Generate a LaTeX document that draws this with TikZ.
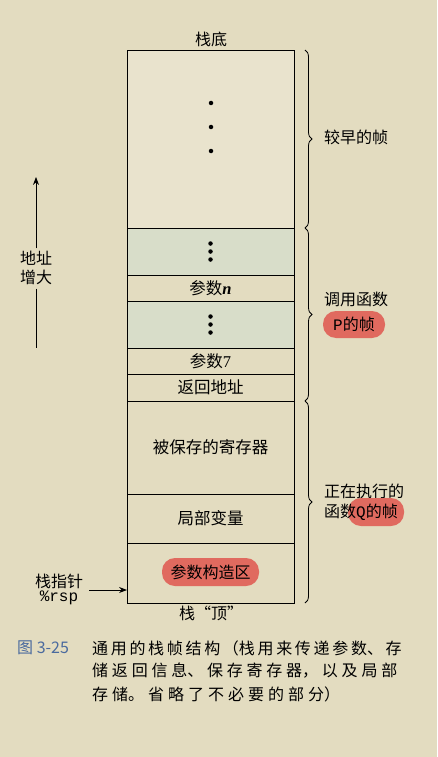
\documentclass[tikz,border=0pt]{standalone}
\usepackage{fontspec}
\setmainfont{Noto Sans CJK SC}
\newfontfamily\latinfont{Liberation Serif}
\setmonofont{Liberation Mono}
\usetikzlibrary{arrows.meta, positioning, decorations.pathreplacing}
\XeTeXlinebreaklocale "zh"
\XeTeXlinebreakskip=2.3pt plus 8pt

\definecolor{paper}{HTML}{E3DCC0}
\definecolor{oldframe}{HTML}{E9E3CD}
\definecolor{calm}{HTML}{D8DDC9}
\definecolor{pillred}{HTML}{E06A5F}
\definecolor{figblue}{HTML}{4A6A9E}

\begin{document}
\begin{tikzpicture}[
    x=1pt, y=-1pt,
    cell/.style={
        draw,
        line width=0.9pt,
        minimum width=167pt,
        inner sep=0pt,
        outer sep=0pt,
        font=\fontsize{16.5pt}{19pt}\selectfont,
    },
    pill/.style={
        fill=pillred,
        rounded corners=13pt,
        inner sep=0pt,
        font=\fontsize{16pt}{19pt}\selectfont,
    },
    brace/.style={
        decorate,
        decoration={brace, amplitude=7pt},
        line width=0.8pt,
    },
    dot/.style={
        circle,
        fill,
        inner sep=0pt,
        minimum size=4.5pt,
    },
    side/.style={
        font=\fontsize{16pt}{19pt}\selectfont,
        anchor=west,
        inner sep=0pt,
    },
    caption/.style={
        font=\fontsize{16pt}{19pt}\selectfont,
        anchor=west,
        inner sep=0pt,
        text width=311pt,
    },
    pointer/.style={
        line width=0.8pt,
        -{Stealth[scale=1.2]},
    }
]
    % Paper
    \fill[paper] (0,0) rectangle (437,757);

    % Stack
    \node[cell, minimum height=178pt, fill=oldframe, anchor=north] (early) at (210.5,50) {};
    \node[cell, minimum height=47pt, fill=calm, below=0pt of early] (moreargs) {};
    \node[cell, minimum height=26pt, below=0pt of moreargs] (argn) {参数{\latinfont\bfseries\itshape n}};
    \node[cell, minimum height=47pt, fill=calm, below=0pt of argn] (midargs) {};
    \node[cell, minimum height=26pt, below=0pt of midargs] (argseven) {参数{\latinfont 7}};
    \node[cell, minimum height=27pt, below=0pt of argseven] (retaddr) {返回地址};
    \node[cell, minimum height=93pt, below=0pt of retaddr] (saved) {被保存的寄存器};
    \node[cell, minimum height=49pt, below=0pt of saved] (locals) {局部变量};
    \node[cell, minimum height=60pt, below=0pt of locals] (argbuild) {};
    \node[pill, minimum width=97pt, minimum height=28pt] (buildpill) at ([yshift=1pt]argbuild.center) {参数构造区};

    % Dots
    \foreach \y [count=\i] in {103,127,151}
        \node[dot] (olddot\i) at (211,\y) {};
    \foreach \d [count=\i] in {-8,0,8} {
        \node[dot] (moredot\i) at ([yshift=\d pt]moreargs.center) {};
        \node[dot] (middot\i) at ([yshift=\d pt]midargs.center) {};
    }

    % Ends of the stack
    \node[side, anchor=center] (stackbottom) at (211,39) {栈底};
    \node[side, anchor=center] (stacktop) at (211,613) {栈“顶”};

    % Frames
    \draw[brace] ([xshift=11pt]early.north east) -- ([xshift=11pt]early.south east);
    \draw[brace] ([xshift=11pt]moreargs.north east) -- ([xshift=11pt]retaddr.south east);
    \draw[brace] ([xshift=11pt]saved.north east) -- ([xshift=11pt]argbuild.south east);

    \node[side] (earlylbl) at (324,137) {较早的帧};
    \node[side] (callerlbl) at (324,299) {调用函数};
    \node[pill, minimum width=62pt, minimum height=27pt] (callerpill) at (354,324.5) {{\ttfamily P}的帧};
    \node[side] (calleelbl) at (324,491) {正在执行的};
    \node[pill, minimum width=56pt, minimum height=28pt] (calleepill) at (376,512) {};
    \node[side] (calleeframe) at (324,512) {函数{\ttfamily Q}的帧};

    % Address growth
    \node[side, anchor=center, align=center] (growth) at (36,267.5) {地址\\增大};
    \coordinate (growtop) at (36,177);
    \coordinate (growbot) at (36,348);
    \draw[pointer] ([yshift=2pt]growth.north) -- (growtop);
    \draw[line width=0.8pt] ([yshift=-4pt]growth.south) -- (growbot);

    % Stack pointer
    \node[side, anchor=center] (sp) at (59,581) {栈指针};
    \node[side, anchor=center, font=\fontsize{16pt}{19pt}\ttfamily] (rsp) at (59,598) {\%rsp};
    \coordinate (spstart) at (89,590);
    \draw[pointer] (spstart) -- (spstart -| argbuild.west);

    % Caption
    \node[side, text=figblue] (fignum) at (17,648) {图 3-25};
    \node[caption] (capone) at (92,648) {\noindent\parfillskip=0pt 通用的栈帧结构（栈用来传递参数、存\par};
    \node[caption] (captwo) at (92,671) {\noindent\parfillskip=0pt 储返回信息、保存寄存器，以及局部\par};
    \node[caption] (capthree) at (92,694) {\XeTeXlinebreakskip=4pt plus 2pt\noindent 存储。省略了不必要的部分）\par};
\end{tikzpicture}
\end{document}
